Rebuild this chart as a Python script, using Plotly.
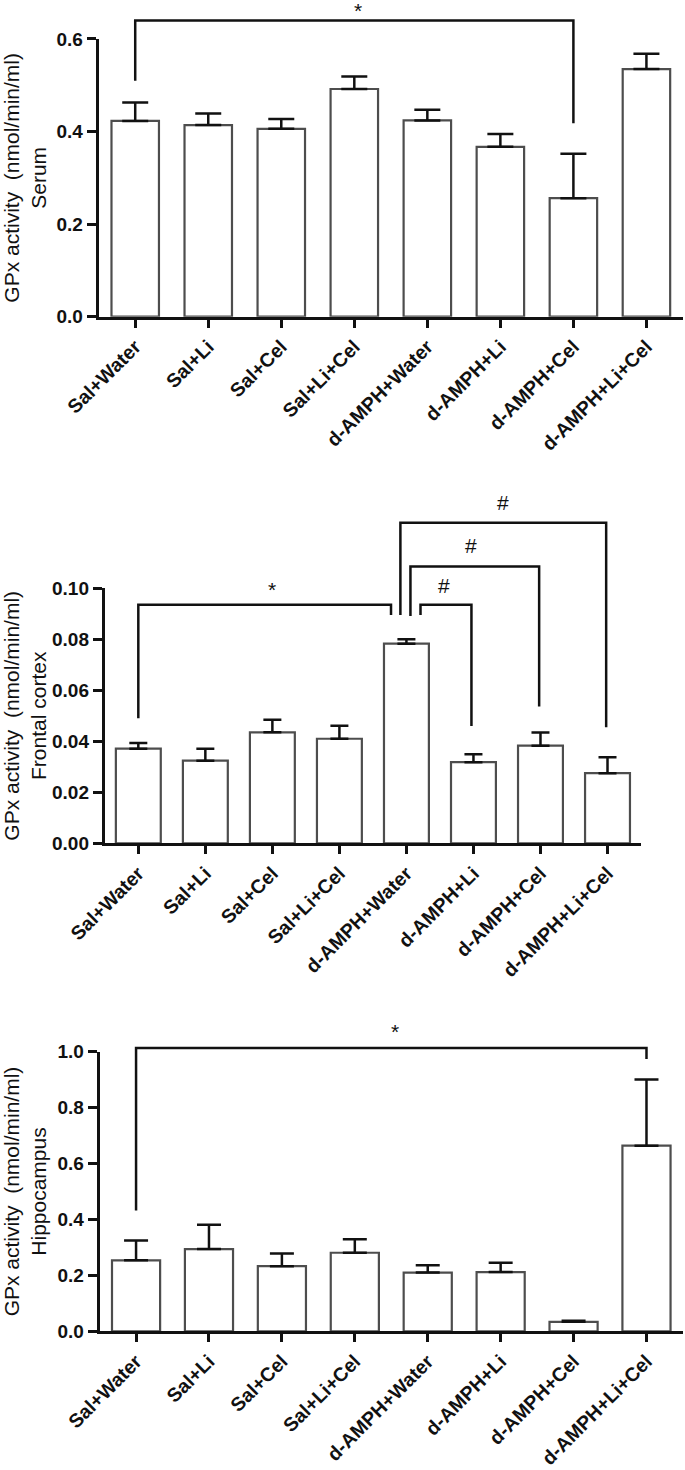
import plotly.graph_objects as go

categories = ["Sal+Water", "Sal+Li", "Sal+Cel", "Sal+Li+Cel",
              "d-AMPH+Water", "d-AMPH+Li", "d-AMPH+Cel", "d-AMPH+Li+Cel"]

# Panel 1: Serum
serum_mean = [0.423, 0.414, 0.406, 0.492, 0.424, 0.367, 0.256, 0.535]
serum_err = [0.040, 0.025, 0.021, 0.027, 0.023, 0.028, 0.096, 0.033]

# Panel 2: Frontal cortex
cortex_mean = [0.0371, 0.0324, 0.0435, 0.0410, 0.0783, 0.0318, 0.0383, 0.0275]
cortex_err = [0.0022, 0.0047, 0.0049, 0.0051, 0.0017, 0.0031, 0.0051, 0.0062]

# Panel 3: Hippocampus
hippo_mean = [0.254, 0.294, 0.233, 0.281, 0.210, 0.212, 0.034, 0.664]
hippo_err = [0.071, 0.087, 0.045, 0.048, 0.026, 0.033, 0.004, 0.237]

y_titles = ["GPx activity  (nmol/min/ml)<br>Serum",
            "GPx activity  (nmol/min/ml)<br>Frontal cortex",
            "GPx activity  (nmol/min/ml)<br>Hippocampus"]

# significance brackets: (x_left, x_right, y_top, y_left_end, y_right_end)
serum_brackets = [(0, 6, 0.640, 0.510, 0.418)]
serum_marks = [(3.05, 0.661, "*")]
cortex_brackets = [(0, 3.77, 0.0935, 0.049, 0.0895),
                   (4.21, 4.97, 0.0935, 0.0895, 0.046),
                   (4.06, 5.98, 0.1085, 0.0891, 0.0536),
                   (3.91, 6.98, 0.1257, 0.0895, 0.0455)]
cortex_marks = [(1.99, 0.0995, "*"), (4.56, 0.1012, "#"),
                (4.97, 0.1168, "#"), (5.44, 0.1335, "#")]
hippo_brackets = [(0, 7, 1.013, 0.432, 0.974)]
hippo_marks = [(3.55, 1.072, "*")]

y_ranges = [[0, 0.6], [0, 0.10], [0, 1.0]]
y_dtick = [0.2, 0.02, 0.2]
y_fmt = [".1f", ".2f", ".1f"]

x_domains = [[0.1441, 0.997], [0.153, 0.9358], [0.1454, 0.997]]
y_domains = [[0.78456, 0.97347], [0.42633, 0.59980], [0.09435, 0.28456]]
bar_widths = [0.65, 0.67, 0.66]
cap_widths = [13, 9, 12]

FONT = "Liberation Sans, Arial, sans-serif"

fig = go.Figure()
panels = [(serum_mean, serum_err, serum_brackets, serum_marks),
          (cortex_mean, cortex_err, cortex_brackets, cortex_marks),
          (hippo_mean, hippo_err, hippo_brackets, hippo_marks)]

layout = dict(width=685, height=1470, margin=dict(l=0, r=0, t=0, b=0, autoexpand=False),
              paper_bgcolor="white", plot_bgcolor="white", showlegend=False,
              shapes=[], annotations=[])

for i, (mean, err, brackets, marks) in enumerate(panels):
    n = "" if i == 0 else str(i + 1)
    fig.add_trace(go.Bar(
        x=categories, y=mean, xaxis="x" + n, yaxis="y" + n,
        width=bar_widths[i],
        marker=dict(color="white", line=dict(color="#4d4d4d", width=2.2)),
        error_y=dict(type="data", array=err, arrayminus=[0] * len(err),
                     symmetric=False, color="#111111", thickness=2.5,
                     width=cap_widths[i]),
    ))
    layout["xaxis" + n] = dict(
        domain=x_domains[i], anchor="y" + n, type="category", automargin=False,
        range=[-0.5, 7.5], showline=True, linecolor="#111111", linewidth=3,
        ticks="outside", ticklen=8, tickwidth=2.5, tickcolor="#111111",
        tickangle=-45, showgrid=False, zeroline=False, ticklabelstandoff=0,
        tickfont=dict(family=FONT, size=19.5, weight="bold", color="#111111"),
    )
    layout["yaxis" + n] = dict(
        domain=y_domains[i], anchor="x" + n, range=y_ranges[i], automargin=False,
        dtick=y_dtick[i], tick0=0, tickformat=y_fmt[i],
        showline=True, linecolor="#111111", linewidth=3,
        ticks="outside", ticklen=9, tickwidth=2.5, tickcolor="#111111",
        showgrid=False, zeroline=False,
        tickfont=dict(family=FONT, size=19, weight="bold", color="#111111"),
        title=dict(text=y_titles[i], standoff=12,
                   font=dict(family=FONT, size=21, color="#111111")),
    )
    ymax = y_ranges[i][1]
    for (xl, xr, yt, yl, yr) in brackets:
        path = (f"M {xl} {yl / ymax} L {xl} {yt / ymax} "
                f"L {xr} {yt / ymax} L {xr} {yr / ymax}")
        layout["shapes"].append(dict(
            type="path", path=path, xref="x" + n, yref="y" + n + " domain",
            line=dict(color="#111111", width=2.5)))
    for (xm, ym, txt) in marks:
        layout["annotations"].append(dict(
            x=xm, y=ym / ymax, xref="x" + n, yref="y" + n + " domain",
            text=txt, showarrow=False, yanchor="middle", xanchor="center",
            font=dict(family=FONT, size=21, color="#111111")))

fig.update_layout(**layout)
fig.write_html("out.html", config={"displayModeBar": False},
               post_script="document.body.style.margin='0';"
                           "document.body.style.overflow='hidden';")
